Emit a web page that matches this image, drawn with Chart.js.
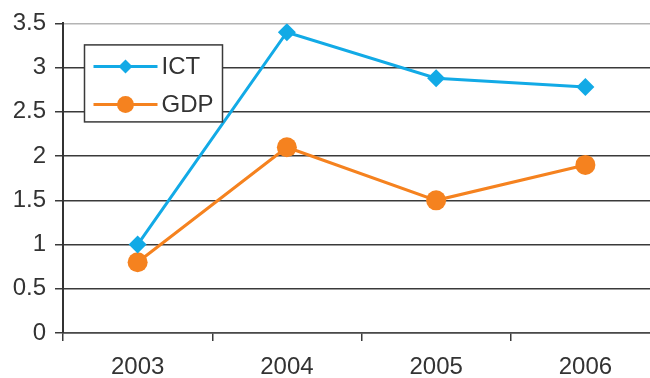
<!DOCTYPE html>
<html>
<head>
<meta charset="utf-8">
<script src="https://cdn.jsdelivr.net/npm/chart.js@4/dist/chart.umd.min.js"></script>
<style>
  html, body { margin: 0; padding: 0; background: #fff; overflow: hidden; }
  #wrap { width: 650px; height: 378px; overflow: hidden; }
  canvas { display: block; }
</style>
</head>
<body>
<div id="wrap"><canvas id="chart" width="670" height="378"></canvas></div>
<script>
// Years on the category axis
const years = ['2003', '2004', '2005', '2006'];
// Growth series
const ictValues = [1.0, 3.4, 2.88, 2.78];
const gdpValues = [0.8, 2.1, 1.5, 1.9];
// Value axis range and step
const yMin = 0;
const yMax = 3.5;
const yStep = 0.5;

const seriesNames = ['ICT', 'GDP'];
const ictColor = '#12aae6';
const gdpColor = '#f5821f';
const textColor = '#333333';
const fontFamily = "'Liberation Sans', Arial, Helvetica, sans-serif";

// Boxed legend drawn inside the plot area, top-left
const insideLegend = {
  id: 'insideLegend',
  afterDraw(chart) {
    const ctx = chart.ctx;
    const area = chart.chartArea;
    const bx = area.left + 21.5, by = area.top + 21.5, bw = 138, bh = 77;
    ctx.save();
    ctx.fillStyle = '#ffffff';
    ctx.fillRect(bx, by, bw, bh);
    ctx.strokeStyle = '#3a3a3a';
    ctx.lineWidth = 1.5;
    ctx.strokeRect(bx, by, bw, bh);
    const rows = [by + 21.5, by + 59.5];
    chart.data.datasets.forEach((ds, i) => {
      const y = rows[i];
      ctx.strokeStyle = ds.borderColor;
      ctx.lineWidth = 3;
      ctx.beginPath();
      ctx.moveTo(bx + 9, y);
      ctx.lineTo(bx + 73, y);
      ctx.stroke();
      ctx.fillStyle = ds.borderColor;
      const cx = bx + 41;
      if (ds.pointStyle === 'rectRot') {
        const r = 7;
        ctx.beginPath();
        ctx.moveTo(cx, y - r);
        ctx.lineTo(cx + r, y);
        ctx.lineTo(cx, y + r);
        ctx.lineTo(cx - r, y);
        ctx.closePath();
        ctx.fill();
      } else {
        ctx.beginPath();
        ctx.arc(cx, y, 8.5, 0, Math.PI * 2);
        ctx.fill();
      }
      ctx.fillStyle = textColor;
      ctx.font = '24px ' + fontFamily;
      ctx.textBaseline = 'middle';
      ctx.textAlign = 'left';
      ctx.fillText(ds.label, bx + 77, y + 1);
    });
    ctx.restore();
  }
};

new Chart(document.getElementById('chart'), {
  type: 'line',
  data: {
    labels: years,
    datasets: [
      {
        label: seriesNames[0],
        data: ictValues,
        borderColor: ictColor,
        backgroundColor: ictColor,
        borderWidth: 3,
        pointStyle: 'rectRot',
        pointRadius: 9,
        pointBorderWidth: 0,
        pointBackgroundColor: ictColor,
        tension: 0
      },
      {
        label: seriesNames[1],
        data: gdpValues,
        borderColor: gdpColor,
        backgroundColor: gdpColor,
        borderWidth: 3,
        pointStyle: 'circle',
        pointRadius: 10,
        pointBorderWidth: 0,
        pointBackgroundColor: gdpColor,
        tension: 0
      }
    ]
  },
  options: {
    responsive: false,
    animation: false,
    devicePixelRatio: 1,
    layout: { padding: { top: 20, right: 0, bottom: 0, left: 0 } },
    plugins: {
      legend: { display: false },
      tooltip: { enabled: false }
    },
    scales: {
      x: {
        type: 'category',
        offset: true,
        grid: {
          offset: true,
          drawOnChartArea: false,
          drawTicks: true,
          tickLength: 8,
          color: '#3a3a3a',
          lineWidth: 1.5
        },
        border: { display: true, color: '#4a4a4a', width: 1.5 },
        ticks: {
          color: textColor,
          padding: 12,
          maxRotation: 0,
          font: { family: fontFamily, size: 24 }
        },
        afterFit(scale) {
          scale.height = 45;
          scale.paddingLeft = 0;
          scale.paddingRight = 0;
        }
      },
      y: {
        min: yMin,
        max: yMax,
        ticks: {
          stepSize: yStep,
          color: textColor,
          padding: 9,
          font: { family: fontFamily, size: 24 },
          callback: (v) => String(v)
        },
        grid: {
          drawTicks: true,
          tickLength: 8,
          lineWidth: 1.5,
          color: (c) => (c.tick && c.tick.value === yMax ? '#b4b4b4' : '#3a3a3a'),
          tickColor: '#3a3a3a'
        },
        border: { display: true, color: '#333333', width: 2 },
        afterFit(scale) { scale.width = 63; }
      }
    }
  },
  plugins: [insideLegend]
});
</script>
</body>
</html>
